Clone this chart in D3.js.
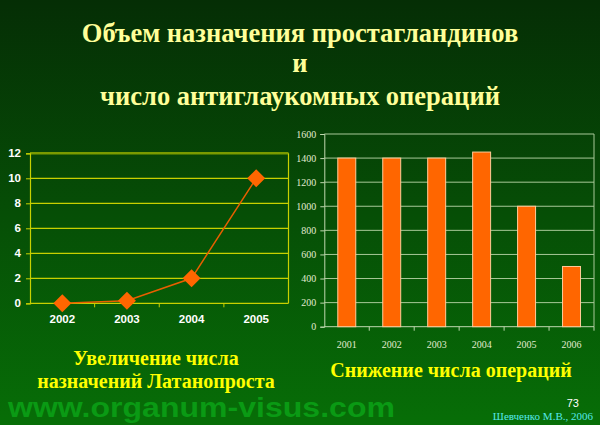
<!DOCTYPE html>
<html><head><meta charset="utf-8">
<script src="https://cdn.jsdelivr.net/npm/d3@7"></script>
<style>html,body{margin:0;padding:0;background:#064a06;}svg{display:block}</style>
</head><body>
<script>
const titleLines = ["Объем назначения простагландинов", "и", "число антиглаукомных операций"];
const lineYears = ["2002", "2003", "2004", "2005"];
const lineValues = [0, 0.2, 2, 10];
const lineTicks = [0, 2, 4, 6, 8, 10, 12];
const barYears = ["2001", "2002", "2003", "2004", "2005", "2006"];
const barValues = [1400, 1400, 1400, 1450, 1000, 500];
const barTicks = [0, 200, 400, 600, 800, 1000, 1200, 1400, 1600];
const leftCaption = ["Увеличение числа", "назначений Латанопроста"];
const rightCaption = "Снижение числа операций";
const siteText = "www.organum-visus.com";
const pageNum = "73";
const author = "Шевченко М.В., 2006";

const W = 600, H = 425;
const svg = d3.select("body").append("svg").attr("width", W).attr("height", H);
const defs = svg.append("defs");
const g = defs.append("linearGradient").attr("id", "bg").attr("x1", 0).attr("y1", 0).attr("x2", 0).attr("y2", 1);
g.append("stop").attr("offset", "0%").attr("stop-color", "#052e05");
g.append("stop").attr("offset", "100%").attr("stop-color", "#076e07");
svg.append("rect").attr("width", W).attr("height", H).attr("fill", "url(#bg)");

// Title
svg.append("g").selectAll("text").data(titleLines).join("text")
  .attr("x", 300).attr("y", (d, i) => [42, 72, 105][i])
  .attr("text-anchor", "middle")
  .attr("font-family", "Liberation Serif, serif").attr("font-weight", "bold")
  .attr("font-size", 26.5).attr("fill", "#ffff99").text(d => d);

// Left line chart
const L = {x0: 30, x1: 288.5, y0: 303.3, y1: 153.3};
const lx = d3.scaleBand().domain(lineYears).range([L.x0, L.x1]);
const ly = d3.scaleLinear().domain([0, 12]).range([L.y0, L.y1]);
const lg = svg.append("g");
lg.selectAll("line.grid").data(lineTicks.filter(t => t > 0)).join("line")
  .attr("x1", L.x0).attr("x2", L.x1).attr("y1", d => ly(d)).attr("y2", d => ly(d))
  .attr("stroke", d => d === 12 ? "#7a9a00" : "#c8d000").attr("stroke-width", d => d === 12 ? 2.5 : 1.2);
lg.append("line").attr("x1", L.x1).attr("x2", L.x1).attr("y1", L.y1).attr("y2", L.y0).attr("stroke", "#c8d000").attr("stroke-width", 1.2);
const lyAxis = lg.append("g").attr("transform", `translate(${L.x0},0)`)
  .call(d3.axisLeft(ly).tickValues(lineTicks).tickSize(4).tickPadding(5));
const lxAxis = lg.append("g").attr("transform", `translate(0,${L.y0})`)
  .call(d3.axisBottom(lx).tickSize(0).tickPadding(12));
[lyAxis, lxAxis].forEach(a => {
  a.selectAll("path.domain").attr("stroke", "#c8d000").attr("stroke-width", 1.2);
  a.selectAll(".tick line").attr("stroke", "#c8d000");
  a.selectAll("text").attr("fill", "#ffffff").attr("font-family", "Liberation Sans, Arial, sans-serif")
    .attr("font-weight", "bold").attr("font-size", 11.5);
});
lxAxis.select("path.domain").attr("d", `M${L.x0},0H${L.x1}`);
lg.selectAll("line.btick").data(lineYears.slice(1)).join("line")
  .attr("x1", d => lx(d)).attr("x2", d => lx(d)).attr("y1", L.y0).attr("y2", L.y0 + 4)
  .attr("stroke", "#c8d000");
const line = d3.line().x((d, i) => lx(lineYears[i]) + lx.bandwidth() / 2).y(d => ly(d));
lg.append("path").datum(lineValues).attr("d", line).attr("fill", "none").attr("stroke", "#e85f00").attr("stroke-width", 1.5);
lg.selectAll("path.mk").data(lineValues).join("path")
  .attr("transform", (d, i) => `translate(${lx(lineYears[i]) + lx.bandwidth() / 2},${ly(d)})`)
  .attr("d", "M0,-9L9,0L0,9L-9,0Z").attr("fill", "#ff6600");

// Right bar chart
const R = {x0: 324.3, x1: 594, y0: 326.7, y1: 134};
const bx = d3.scaleBand().domain(barYears).range([R.x0, R.x1]).paddingInner(0.6).paddingOuter(0.3);
const bxb = d3.scaleBand().domain(barYears).range([R.x0, R.x1]);
const by = d3.scaleLinear().domain([0, 1600]).range([R.y0, R.y1]);
const rg = svg.append("g");
rg.selectAll("line.grid").data(barTicks.filter(t => t > 0)).join("line")
  .attr("x1", R.x0).attr("x2", R.x1).attr("y1", d => by(d)).attr("y2", d => by(d))
  .attr("stroke", "#a8c898").attr("stroke-width", 1);
rg.append("line").attr("x1", R.x1).attr("x2", R.x1).attr("y1", R.y1).attr("y2", R.y0).attr("stroke", "#a8c898");
const ryAxis = rg.append("g").attr("transform", `translate(${R.x0},0)`)
  .call(d3.axisLeft(by).tickValues(barTicks).tickFormat(d3.format("d")).tickSize(4).tickPadding(4));
const rxAxis = rg.append("g").attr("transform", `translate(0,${R.y0})`)
  .call(d3.axisBottom(bxb).tickSize(0).tickPadding(14));
[ryAxis, rxAxis].forEach(a => {
  a.selectAll("path.domain").attr("stroke", "#c0d8b0");
  a.selectAll(".tick line").attr("stroke", "#c0d8b0");
  a.selectAll("text").attr("fill", "#e0ead0").attr("font-family", "Liberation Serif, serif")
    .attr("font-size", 10);
});
rxAxis.select("path.domain").attr("d", `M${R.x0},0H${R.x1}`);
rg.selectAll("line.btick").data(barYears.slice(1).concat(["end"])).join("line")
  .attr("x1", d => d === "end" ? R.x1 : bxb(d)).attr("x2", d => d === "end" ? R.x1 : bxb(d))
  .attr("y1", R.y0).attr("y2", R.y0 + 4).attr("stroke", "#c0d8b0");
rg.selectAll("rect.bar").data(barValues).join("rect")
  .attr("x", (d, i) => bx(barYears[i])).attr("width", bx.bandwidth())
  .attr("y", d => by(d)).attr("height", d => R.y0 - by(d))
  .attr("fill", "#ff6600").attr("stroke", "#ffcc99").attr("stroke-width", 1);

// Captions
svg.append("g").selectAll("text").data(leftCaption).join("text")
  .attr("x", 156).attr("y", (d, i) => [365, 388][i]).attr("text-anchor", "middle")
  .attr("font-family", "Liberation Serif, serif").attr("font-weight", "bold")
  .attr("font-size", 20).attr("fill", "#ffff00").text(d => d);
svg.append("text").attr("x", 451).attr("y", 377).attr("text-anchor", "middle")
  .attr("font-family", "Liberation Serif, serif").attr("font-weight", "bold")
  .attr("font-size", 20).attr("fill", "#ffff00").text(rightCaption);
svg.append("text").attr("x", 8).attr("y", 417)
  .attr("font-family", "Liberation Sans, Arial, sans-serif").attr("font-weight", "bold")
  .attr("font-size", 28).attr("textLength", 387).attr("lengthAdjust", "spacingAndGlyphs")
  .attr("fill", "#0a9a14").text(siteText);
svg.append("text").attr("x", 579).attr("y", 407).attr("text-anchor", "end")
  .attr("font-family", "Liberation Sans, Arial, sans-serif")
  .attr("font-size", 11).attr("fill", "#ffffff").text(pageNum);
svg.append("text").attr("x", 593).attr("y", 420).attr("text-anchor", "end")
  .attr("font-family", "Liberation Serif, serif")
  .attr("font-size", 11).attr("fill", "#55e8e8").text(author);
</script>
</body></html>
